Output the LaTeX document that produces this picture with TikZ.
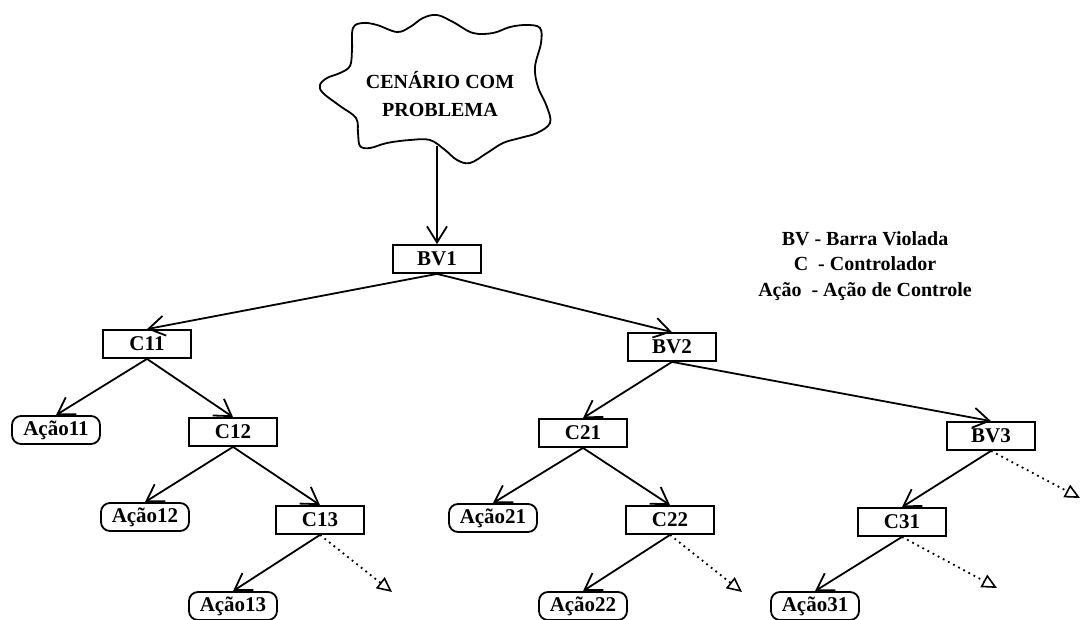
\documentclass[tikz,border=0pt]{standalone}
\usepackage{fontspec}
\setmainfont{Liberation Serif}
\usetikzlibrary{arrows.meta}
\tikzset{
	caixa/.style={draw, line width=0.9pt, minimum width=44pt, minimum height=14pt, inner sep=0pt, font=\fontsize{10.5}{12}\bfseries},
	acao/.style={caixa, rounded corners=4.5pt, minimum height=14pt},
	seta/.style={-{Straight Barb[length=8pt,width=10pt,line width=0.9pt]}, line width=0.9pt},
	pont/.style={-{Triangle[open,length=7.5pt,width=7pt,line width=0.8pt]}, dotted, line width=0.9pt},
	nuvem/.style={line width=0.9pt}
}
\begin{document}
\begin{tikzpicture}[x=0.5pt, y=-0.5pt]
		\useasboundingbox (0,0) rectangle (1082,620);

		\draw[nuvem] plot[smooth cycle, tension=0.6] coordinates {(353,28) (363,23) (377,25) (397,32) (410,27) (423,18) (437,15) (453,22) (473,33) (493,33) (510,27) (527,25) (540,28) (541,43) (535,67) (538,87) (547,107) (550,123) (537,133) (520,138) (503,143) (487,153) (470,163) (457,160) (445,150) (430,140) (410,140) (387,143) (370,148) (360,146) (358,133) (356,118) (340,106) (323,93) (320,85) (327,78) (340,73) (350,66) (352,50)};
		\node[font=\bfseries, align=center] (prob) at (440,94) {CENÁRIO COM\\[2pt]PROBLEMA};
		\coordinate (base) at (437,146);

		\node[font=\bfseries, align=center] (legenda) at (865,266) {BV - Barra Violada\\[0.8pt]C\ \ - Controlador\\[0.8pt]Ação\ \ - Ação de Controle};

		\node[caixa] (bv1) at (437,259) {BV1};
		\node[caixa] (c11) at (147,344) {C11};
		\node[caixa] (bv2) at (672,347) {BV2};
		\node[acao]  (a11) at (56,430) {Ação11};
		\node[caixa] (c12) at (233,432) {C12};
		\node[caixa] (c21) at (583,433) {C21};
		\node[caixa] (bv3) at (991,436) {BV3};
		\node[acao]  (a12) at (145,517) {Ação12};
		\node[caixa] (c13) at (320,520) {C13};
		\node[acao]  (a21) at (493,518) {Ação21};
		\node[caixa] (c22) at (670,520) {C22};
		\node[caixa] (c31) at (902,522) {C31};
		\node[acao]  (a13) at (233,606) {Ação13};
		\node[acao]  (a22) at (583,606) {Ação22};
		\node[acao]  (a31) at (815,606) {Ação31};

		\coordinate (f13) at (392,592);
		\coordinate (f22) at (742,592);
		\coordinate (f31) at (997,588);
		\coordinate (f3) at (1080,498);

		\draw[seta] (base) to (bv1.north);
		\foreach \a/\b in {bv1/c11, bv1/bv2, c11/a11, c11/c12, c12/a12, c12/c13, c13/a13, bv2/c21, bv2/bv3, c21/a21, c21/c22, c22/a22, bv3/c31, c31/a31} {
			\draw[seta] (\a.south) to (\b.north);
		}
		\foreach \a/\b in {c13/f13, c22/f22, c31/f31, bv3/f3} {
			\draw[pont] (\a.south) to (\b);
		}
	\end{tikzpicture}
\end{document}
